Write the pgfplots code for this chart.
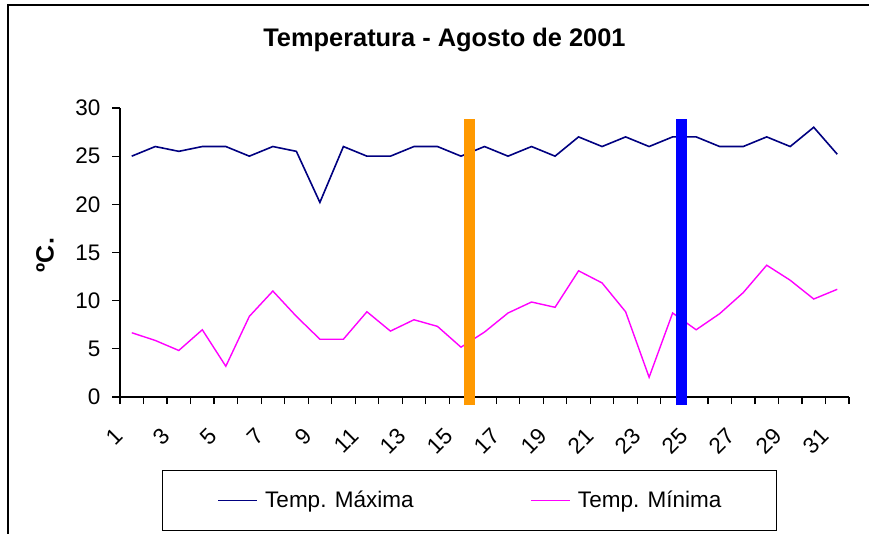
\documentclass[border=0pt]{standalone}
\usepackage{pgfplots}
\pgfplotsset{compat=1.18}
\usepackage{fontspec}
\setmainfont{Liberation Sans}
\definecolor{maxc}{HTML}{000080}
\definecolor{minc}{HTML}{FF00FF}
\definecolor{orangebar}{HTML}{FF9900}
\definecolor{bluebar}{HTML}{0000FF}
\begin{document}
\begin{tikzpicture}[x=1pt,y=1pt]
\path[use as bounding box] (0,0) rectangle (869,533);
\draw[line width=1.5pt] (8,-10) -- (8,528) -- (880,528);
\begin{axis}[
  at={(120pt,136pt)}, anchor=south west,
  scale only axis, width=729pt, height=289pt,
  xmin=0.5, xmax=31.5, ymin=0, ymax=30,
  axis lines*=left,
  axis line style={line width=1.2pt, -},
  clip=false,
  ytick={0,5,...,30},
  xtick={1,3,...,31},
  minor xtick={0.5,1.5,...,31.5},
  major x tick style={draw=none},
  tick align=outside,
  major tick length=8pt,
  minor tick length=7pt,
  tick style={black, line width=1.2pt},
  /pgf/number format/assume math mode=true,
  tick label style={font=\fontsize{22.5}{27}\selectfont},
  yticklabel style={xshift=-8pt},
  xticklabel style={xshift=-10pt, yshift=-25pt, rotate=45, anchor=east},
  title={Temperatura - Agosto de 2001},
  every axis title/.style={at={(rel axis cs:0.445,1.235)}, anchor=center, font=\bfseries\fontsize{25.4}{30}\selectfont},
  ylabel={ºC.},
  every axis y label/.style={at={(rel axis cs:-0.103,0.491)}, anchor=center, rotate=90, font=\bfseries\fontsize{25}{30}\selectfont},
  legend columns=2,
  legend image code/.code={\draw[#1] (0pt,0pt) -- (39pt,0pt);},
  legend style={at={(rel axis cs:0.4794,-0.358)}, anchor=center, draw=black, line width=1.2pt,
    fill=white, inner xsep=55pt, inner ysep=21pt,
    nodes={inner sep=0pt, text depth=0.15em},
    font=\fontsize{22.5}{27}\selectfont,
    /tikz/every odd column/.append style={column sep=7pt},
    /tikz/every even column/.append style={column sep=117pt}},
]
\addplot[maxc, line width=1.6pt] coordinates {
(1,25) (2,26) (3,25.5) (4,26) (5,26) (6,25) (7,26) (8,25.5) (9,20.2) (10,26)
(11,25) (12,25) (13,26) (14,26) (15,25) (16,26) (17,25) (18,26) (19,25) (20,27)
(21,26) (22,27) (23,26) (24,27) (25,27) (26,26) (27,26) (28,27) (29,26) (30,28) (31,25.2)};
\addlegendentry{Temp. Máxima}
\addplot[minc, line width=1.4pt] coordinates {
(1,6.67) (2,5.87) (3,4.83) (4,6.98) (5,3.19) (6,8.37) (7,11.0) (8,8.37) (9,6.0) (10,6.0)
(11,8.85) (12,6.84) (13,8.02) (14,7.33) (15,5.17) (16,6.74) (17,8.72) (18,9.86) (19,9.31) (20,13.1)
(21,11.84) (22,8.85) (23,2.05) (24,8.72) (25,6.98) (26,8.65) (27,10.83) (28,13.68) (29,12.12) (30,10.17) (31,11.18)};
\addlegendentry{Temp. Mínima}
\addplot[orangebar, line width=10.7pt, line cap=butt, forget plot] coordinates {(15.36,-0.85) (15.36,28.9)};
\addplot[bluebar, line width=10.7pt, line cap=butt, forget plot] coordinates {(24.38,-0.85) (24.38,28.9)};
\end{axis}
\end{tikzpicture}
\end{document}
